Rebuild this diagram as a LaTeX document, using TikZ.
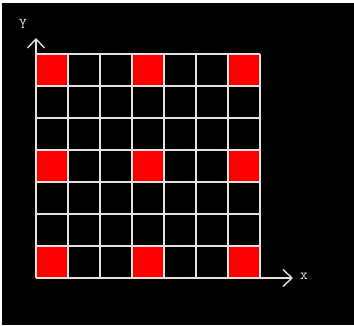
\documentclass[tikz,border=0pt]{standalone}
\usetikzlibrary{arrows.meta}
\definecolor{gridline}{RGB}{225,225,225}
\definecolor{cellred}{RGB}{255,0,0}
\tikzset{
  gridpen/.style={draw=gridline, line width=1.6pt},
  axispen/.style={draw=gridline, line width=1.4pt, -{Straight Barb[length=9pt,width=17pt,line width=1.4pt]}},
  redcell/.style={fill=cellred},
  axlabel/.style={text=gridline, font=\ttfamily\fontsize{15pt}{15pt}\selectfont, inner sep=0pt}
}
\begin{document}
\begin{tikzpicture}[x=1pt,y=-1pt]
  \fill[white] (0,0) rectangle (354,325);
  \fill[black] (2,3) rectangle (354,325);
  \useasboundingbox (0,0) rectangle (354,325);
  % red cells
  \foreach \i in {0,3,6}{
    \foreach \j in {0,3,6}{
      \fill[redcell] ({36+32*\i},{54+32*\j}) rectangle ++(32,32);
    }
  }
  % grid
  \foreach \k in {0,...,7}{
    \draw[gridpen] ({36+32*\k},54) -- ({36+32*\k},278);
    \draw[gridpen] (36,{54+32*\k}) -- (260,{54+32*\k});
  }
  \coordinate (origin) at (36,278);
  \coordinate (ytip) at (36,38);
  \coordinate (xtip) at (293,278);
  \draw[axispen] (36,54) -- (ytip);
  \draw[axispen] (260,278) -- (xtip);
  \node[axlabel] (ylab) at (23,24) {Y};
  \node[axlabel] (xlab) at (304,276) {x};
\end{tikzpicture}
\end{document}
